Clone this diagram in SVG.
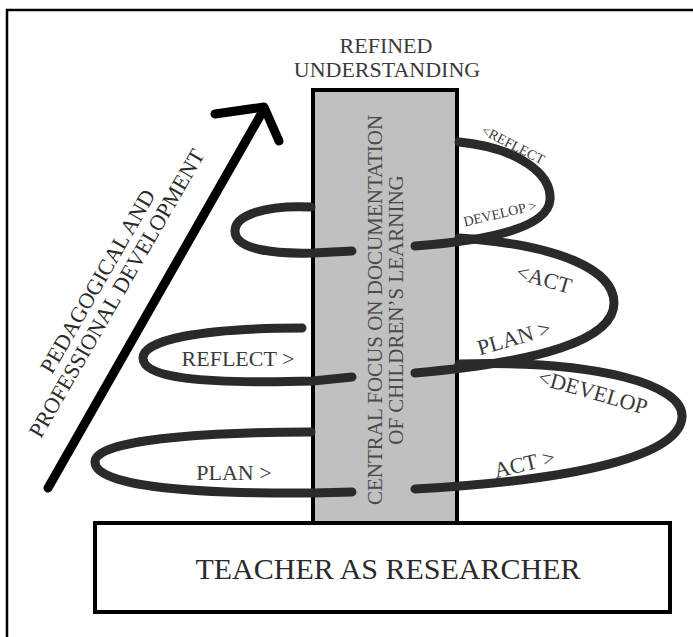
<svg xmlns="http://www.w3.org/2000/svg" width="693" height="637" viewBox="0 0 693 637">
<style>
.frame{fill:none;stroke:#000;stroke-width:2.5}
.box{stroke:#000;stroke-width:4}
.coil{fill:none;stroke:#2a2a2a;stroke-width:9;stroke-linecap:round;stroke-linejoin:round}
.arrow{fill:none;stroke:#000;stroke-width:9;stroke-linecap:round;stroke-linejoin:round}
text{font-family:"Liberation Serif","Times New Roman",serif;fill:#3a3a3a}
.lbl{font-size:22px;text-anchor:middle}
.sm{font-size:14px;text-anchor:middle}
.col{font-size:21px;text-anchor:middle;fill:#4a4a4a}
.top{font-size:22px;text-anchor:middle}
.ped{font-size:22px;text-anchor:middle;fill:#2a2a2a}
.base{font-size:30px;text-anchor:middle;fill:#2a2a2a}
</style>
<rect width="693" height="637" fill="#fff"/>
<path class="frame" d="M7,637 L7,10 L693,10"/>

<g id="arrow">
  <path class="arrow" d="M48,488 L264,109"/>
  <path class="arrow" d="M215,114 L264,107 L279,141"/>
  <text class="ped" transform="translate(104,285) rotate(-60)">PEDAGOGICAL AND</text>
  <text class="ped" transform="translate(123,297) rotate(-60)">PROFESSIONAL DEVELOPMENT</text>
</g>

<g id="central">
  <rect class="box" x="313" y="90" width="144" height="433" fill="#c0c0c0"/>
  <text class="col" transform="translate(382,310) rotate(-90)">CENTRAL FOCUS ON DOCUMENTATION</text>
  <text class="col" transform="translate(403,310) rotate(-90)">OF CHILDREN’S LEARNING</text>
</g>

<g id="refined">
  <text class="top" x="386" y="53">REFINED</text>
  <text class="top" x="387" y="77">UNDERSTANDING</text>
</g>

<g id="connectors">
  <!-- left loops -->
  <path class="coil" d="M311,207 C265,205 235,215 235,231 C235,250 275,254 313,253 L352,251"/>
  <path class="coil" d="M302,328 C200,328 143,340 143,358 C143,378 200,384 313,381 L352,377"/>
  <path class="coil" d="M311,432 C200,432 95,440 95,462 C95,485 180,494 313,493 L352,492"/>
  <!-- right loops -->
  <path class="coil" d="M459,142 C520,148 552,175 550,200 C548,225 500,240 415,246"/>
  <path class="coil" d="M459,238 C560,245 614,270 614,303 C614,340 540,362 415,373"/>
  <path class="coil" d="M459,364 C600,360 684,385 682,417 C680,455 580,480 415,489"/>
</g>

<g id="labels">
  <text class="sm" transform="translate(511,149) rotate(27)">&lt;REFLECT</text>
  <text class="sm" transform="translate(501,218) rotate(-13)">DEVELOP &gt;</text>
  <text class="lbl" transform="translate(542,286) rotate(16)">&lt;ACT</text>
  <text class="lbl" transform="translate(516,345) rotate(-16)">PLAN &gt;</text>
  <text class="lbl" transform="translate(591,399) rotate(16)">&lt;DEVELOP</text>
  <text class="lbl" transform="translate(526,471) rotate(-13)">ACT &gt;</text>
  <text class="lbl" x="238" y="366">REFLECT &gt;</text>
  <text class="lbl" x="234" y="480">PLAN &gt;</text>
</g>

<g id="teacher">
  <rect class="box" x="95" y="523" width="575" height="89" fill="#fff"/>
  <text class="base" x="388" y="579">TEACHER AS RESEARCHER</text>
</g>
</svg>
